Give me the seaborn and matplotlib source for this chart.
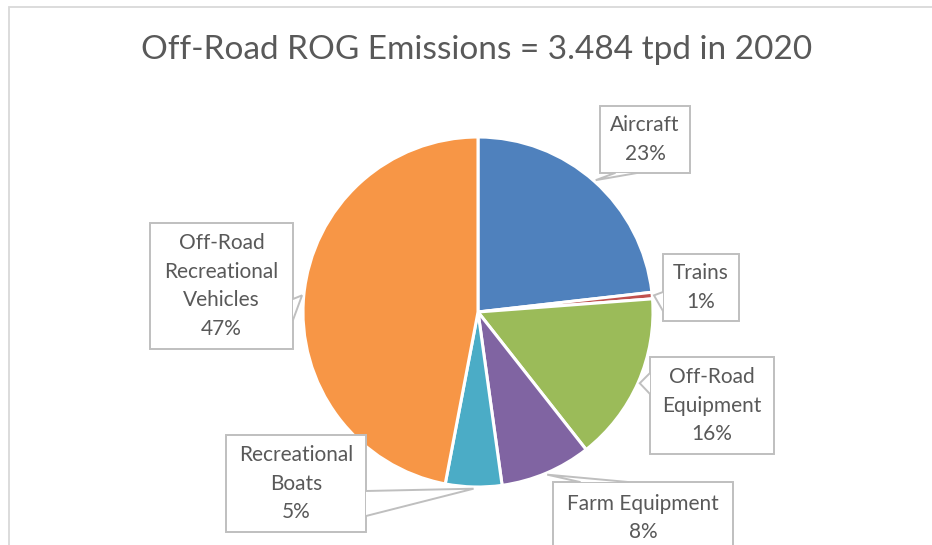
import numpy as np
import matplotlib.pyplot as plt
import seaborn as sns
from matplotlib.patches import Rectangle, Polygon

# data (share of 3.484 tpd, %)
categories = ['Aircraft', 'Trains', 'Off-Road\nEquipment', 'Farm Equipment',
              'Recreational\nBoats', 'Off-Road\nRecreational\nVehicles']
shares = [23.2, 0.6, 15.6, 8.4, 5.2, 47.0]
colors = ['#4F81BD', '#C0504D', '#9BBB59', '#8064A2', '#4BACC6', '#F79646']
title = 'Off-Road ROG Emissions = 3.484 tpd in 2020'

sns.set_theme(style='white')
plt.rcParams['font.family'] = ['Lato', 'DejaVu Sans']

W, H = 932, 545
fig = plt.figure(figsize=(W / 100, H / 100), dpi=100)
ax = fig.add_axes([0, 0, 1, 1])

def py(y):
    # pixel y (from top) -> data y
    return H - y

cx, cy, r = 478, py(312), 175
wedges, _ = ax.pie(shares, colors=colors, startangle=90, counterclock=False,
                   center=(cx, cy), radius=r, frame=True,
                   wedgeprops=dict(edgecolor='white', linewidth=2.2))
ax.set_xlim(0, W)
ax.set_ylim(0, H)
ax.set_aspect('equal')
ax.axis('off')

# chart border
ax.add_patch(Rectangle((9, -20), W, py(7) + 20, fill=False,
                       ec='#D9D9D9', lw=1.3, zorder=0))

ax.text(477, py(50), title, ha='center', va='center', fontsize=24,
        color='#595959')

# callout boxes: (x0, y0, x1, y1) in pixels, pointer base ends
boxes = [
    ((600, 106, 690, 173), [(615, 173), (637, 173)]),
    ((663, 254, 739, 321), [(663, 292), (663, 311)]),
    ((650, 357, 774, 454), [(650, 373), (650, 394)]),
    ((553, 482, 733, 560), [(580, 482), (628, 482)]),
    ((226, 435, 366, 532), [(366, 491), (366, 516)]),
    ((150, 223, 293, 349), [(293, 299), (293, 320)]),
]

edge = '#BFBFBF'
for w, cat, v, (box, base) in zip(wedges, categories, shares, boxes):
    x0, y0, x1, y1 = box
    ax.add_patch(Rectangle((x0, py(y1)), x1 - x0, y1 - y0, fc='white',
                           ec=edge, lw=1.4, zorder=3))
    mid = np.deg2rad((w.theta1 + w.theta2) / 2)
    tip = (cx + 1.01 * r * np.cos(mid), cy + 1.01 * r * np.sin(mid))
    p1 = (base[0][0], py(base[0][1]))
    p2 = (base[1][0], py(base[1][1]))
    ax.add_patch(Polygon([p1, tip, p2], closed=True, fc='white', ec='none',
                         zorder=4))
    ax.plot([p1[0], tip[0], p2[0]], [p1[1], tip[1], p2[1]], color=edge,
            lw=1.4, zorder=5, solid_joinstyle='miter')
    label = f'{cat}\n{v:.0f}%'
    if cat == 'Farm Equipment':
        ty = 518
    else:
        ty = (y0 + y1) / 2
    ax.text((x0 + x1) / 2, py(ty), label, ha='center', va='center',
            fontsize=15, color='#595959', linespacing=1.55, zorder=6)

fig.savefig('out.png', dpi=100)
